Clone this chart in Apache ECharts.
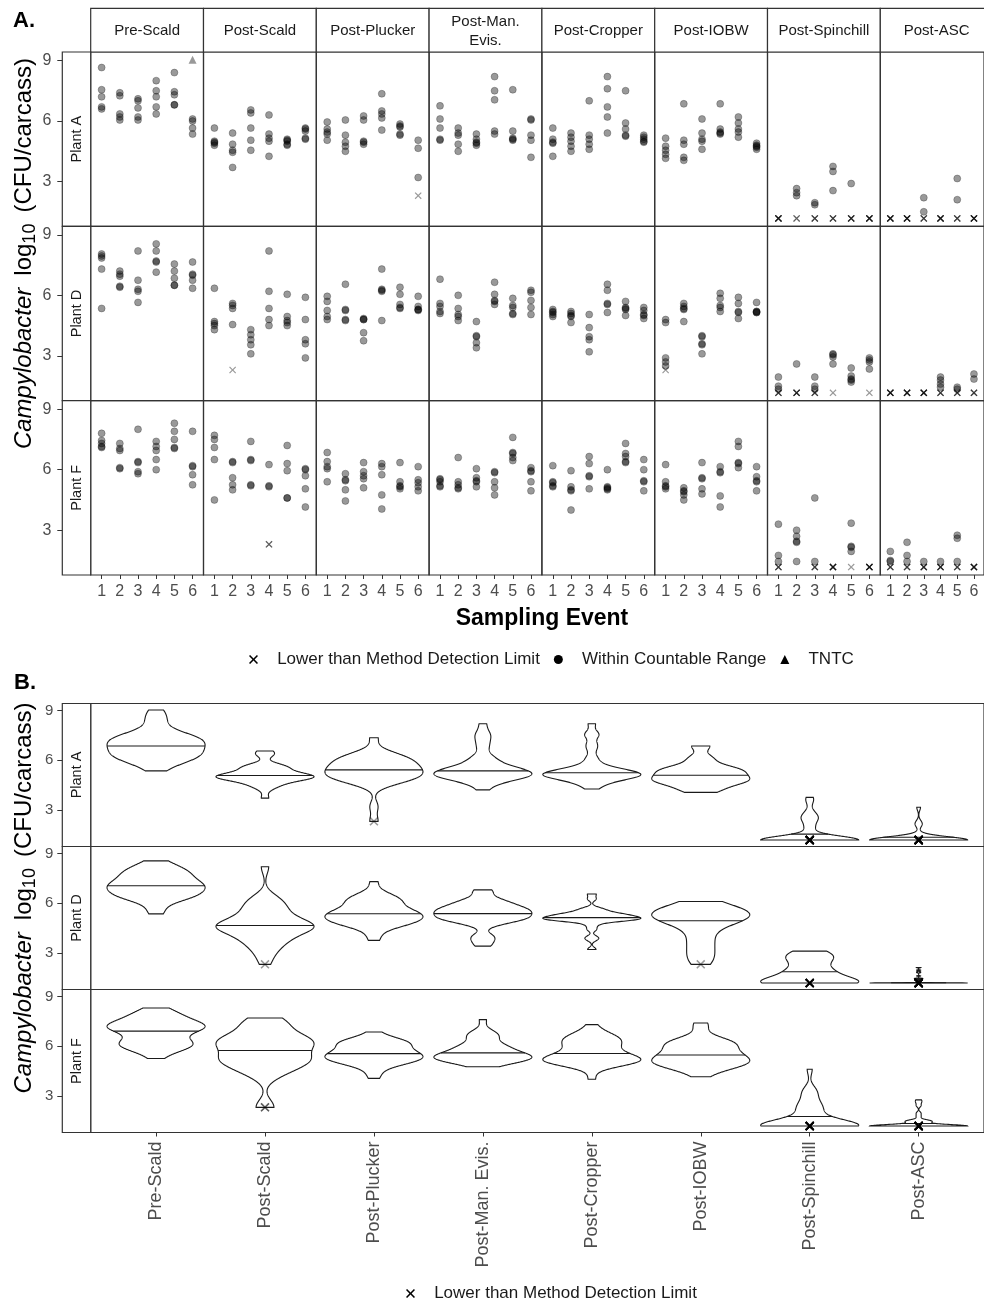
<!DOCTYPE html>
<html>
<head>
<meta charset="utf-8">
<title>Campylobacter counts by processing stage</title>
<script src="https://cdn.jsdelivr.net/npm/echarts@6/dist/echarts.min.js"></script>
<style>
  html, body { margin: 0; padding: 0; background: #fff; }
  #chart { width: 984px; height: 1301px; }
</style>
</head>
<body>
<div id="chart"></div>
<script>
// '<' = lower than method detection limit, '>' = TNTC
const LOD = '<1.17'
const LOD2 = '<2.3'
const TNTC = '>9.03'

const stages = ['Pre-Scald', 'Post-Scald', 'Post-Plucker', 'Post-Man. Evis.', 'Post-Cropper', 'Post-IOBW', 'Post-Spinchill', 'Post-ASC']
const stripLabels = ['Pre-Scald', 'Post-Scald', 'Post-Plucker', 'Post-Man.\nEvis.', 'Post-Cropper', 'Post-IOBW', 'Post-Spinchill', 'Post-ASC']
const plants = ['Plant A', 'Plant D', 'Plant F']
const events = [1, 2, 3, 4, 5, 6]
const yTicks = [3, 6, 9]

// log10 CFU/carcass, one list per sampling event
const aPreScald = [[8.65, 7.55, 7.2, 6.7, 6.6], [7.4, 7.25, 6.35, 6.2, 6.05], [7.1, 7.0, 6.65, 6.2, 6.05], [8.0, 7.5, 7.2, 6.7, 6.35], [8.4, 7.45, 7.3, 6.8, 6.8], [TNTC, 6.1, 6.0, 5.65, 5.35]]
const aPostScald = [[5.65, 5.0, 4.95, 4.9, 4.8], [5.4, 4.85, 4.55, 4.45, 3.7], [6.55, 6.4, 5.65, 5.05, 4.55], [6.3, 5.35, 5.15, 5.0, 4.25], [5.1, 5.05, 5.0, 4.85, 4.8], [5.65, 5.6, 5.5, 5.15, 5.1]]
const aPostPlucker = [[5.95, 5.6, 5.45, 5.35, 5.05], [6.05, 5.3, 4.95, 4.75, 4.5], [6.25, 6.05, 5.0, 4.95, 4.85], [7.35, 6.5, 6.35, 6.15, 5.55], [5.85, 5.75, 5.7, 5.35, 5.3], [5.05, 4.65, 3.2, LOD2]]
const aPostManEvis = [[6.75, 6.1, 5.65, 5.1, 5.05], [5.65, 5.4, 5.3, 4.85, 4.5], [5.35, 5.1, 4.95, 4.9, 4.8], [8.2, 7.5, 7.05, 5.5, 5.35], [7.55, 5.5, 5.15, 5.1, 5.05], [6.1, 6.05, 5.3, 5.05, 4.2]]
const aPostCropper = [[5.65, 5.1, 4.95, 4.9, 4.25], [5.4, 5.2, 5.0, 4.75, 4.5], [7.0, 5.3, 5.1, 4.85, 4.6], [8.2, 7.6, 6.7, 6.2, 5.4], [7.5, 5.9, 5.6, 5.3, 5.25], [5.3, 5.2, 5.1, 5.0, 4.95]]
const aPostIOBW = [[5.15, 4.75, 4.55, 4.35, 4.15], [6.85, 5.05, 4.85, 4.2, 4.05], [6.1, 5.4, 5.1, 5.0, 4.6], [6.85, 5.6, 5.45, 5.4, 5.35], [6.2, 5.9, 5.6, 5.45, 5.2], [4.9, 4.8, 4.75, 4.7, 4.6]]
const aPostSpinchill = [[LOD, LOD, LOD, LOD, LOD], [2.65, 2.45, 2.3, LOD, LOD], [1.95, 1.85, LOD, LOD, LOD], [3.75, 3.5, 2.55, LOD, LOD, LOD], [2.9, LOD, LOD, LOD, LOD], [LOD, LOD, LOD, LOD, LOD]]
const aPostASC = [[LOD, LOD, LOD, LOD, LOD], [LOD, LOD, LOD, LOD, LOD], [2.2, 1.5, LOD, LOD, LOD], [LOD, LOD, LOD, LOD, LOD], [3.15, 2.1, LOD, LOD, LOD], [LOD, LOD, LOD, LOD, LOD]]

const dPreScald = [[8.05, 7.95, 7.85, 7.3, 5.35], [7.2, 7.05, 6.95, 6.45, 6.4], [8.2, 6.75, 6.3, 6.2, 5.65], [8.55, 8.2, 7.7, 7.65, 7.15], [7.55, 7.2, 6.85, 6.5, 6.5], [7.65, 7.05, 7.0, 6.75, 6.35]]
const dPostScald = [[6.35, 4.7, 4.6, 4.5, 4.3], [5.6, 5.5, 5.35, 4.55, LOD2], [4.3, 4.05, 3.8, 3.55, 3.1], [8.2, 6.2, 5.35, 4.8, 4.5], [6.05, 4.95, 4.75, 4.65, 4.5], [5.9, 4.8, 3.8, 3.6, 2.9]]
const dPostPlucker = [[5.95, 5.7, 5.25, 4.95, 4.8], [6.55, 5.3, 5.25, 4.8, 4.75], [4.85, 4.8, 4.8, 4.15, 3.75], [7.3, 6.3, 6.25, 6.2, 4.75], [6.4, 6.05, 5.55, 5.4, 5.35], [5.95, 5.45, 5.3, 5.3, 5.25]]
const dPostManEvis = [[6.8, 5.6, 5.45, 5.2, 5.1], [6.0, 5.35, 5.05, 4.95, 4.75], [4.7, 4.0, 3.95, 3.65, 3.4], [6.65, 6.05, 5.75, 5.7, 5.55], [5.85, 5.5, 5.4, 5.1, 5.05], [6.25, 6.15, 5.75, 5.4, 5.05]]
const dPostCropper = [[5.3, 5.2, 5.15, 5.05, 4.95], [5.2, 5.1, 5.0, 4.95, 4.65], [5.05, 4.4, 3.95, 3.8, 3.2], [6.55, 6.25, 5.6, 5.55, 5.15], [5.7, 5.4, 5.35, 5.3, 5.0], [5.4, 5.25, 5.05, 5.0, 4.85]]
const dPostIOBW = [[4.8, 4.65, 2.9, 2.7, 2.5, LOD2], [5.6, 5.45, 5.35, 5.3, 4.7], [4.0, 3.95, 3.6, 3.55, 3.1], [6.1, 5.85, 5.5, 5.4, 5.2], [5.9, 5.6, 5.2, 5.15, 4.85], [5.65, 5.2, 5.2, 5.15, 5.15]]
const dPostSpinchill = [[1.95, 1.5, 1.35, LOD, LOD, LOD], [2.6, LOD, LOD, LOD, LOD], [1.95, 1.5, 1.35, LOD, LOD, LOD], [3.1, 3.05, 2.95, 2.6, LOD], [2.4, 2.0, 1.85, 1.8, 1.7], [2.9, 2.8, 2.7, 2.35, LOD]]
const dPostASC = [[LOD, LOD, LOD, LOD, LOD], [LOD, LOD, LOD, LOD, LOD], [LOD, LOD, LOD, LOD, LOD], [1.95, 1.8, 1.6, 1.45, LOD, LOD, LOD], [1.45, 1.35, LOD, LOD, LOD], [2.1, 1.85, LOD, LOD, LOD]]

const fPreScald = [[7.8, 7.45, 7.3, 7.15, 7.1], [7.3, 7.05, 6.95, 6.1, 6.05], [8.0, 6.4, 6.35, 5.9, 5.8], [7.4, 7.15, 6.95, 6.5, 6.0], [8.3, 7.9, 7.5, 7.1, 7.05], [7.9, 6.2, 6.15, 5.75, 5.25]]
const fPostScald = [[7.7, 7.5, 7.1, 6.5, 4.5], [6.4, 6.35, 5.6, 5.25, 5.0], [7.4, 6.5, 6.45, 5.25, 5.2], [6.25, 5.2, 5.15, LOD2, LOD2], [7.2, 6.3, 5.95, 4.6, 4.6], [6.05, 6.0, 5.7, 5.05, 4.15]]
const fPostPlucker = [[6.85, 6.4, 6.15, 6.05, 5.4], [5.8, 5.5, 5.45, 5.0, 4.45], [6.35, 5.9, 5.7, 5.55, 5.1], [6.3, 6.15, 5.75, 4.75, 4.05], [6.35, 5.4, 5.2, 5.15, 5.05], [6.15, 5.5, 5.35, 5.15, 4.95]]
const fPostManEvis = [[5.55, 5.5, 5.4, 5.2, 5.15], [6.6, 5.4, 5.25, 5.1, 5.05], [6.05, 5.6, 5.45, 5.4, 5.15], [5.9, 5.85, 5.4, 5.1, 4.75], [7.6, 6.85, 6.8, 6.6, 6.45], [6.1, 5.95, 5.9, 5.4, 4.95]]
const fPostCropper = [[6.2, 5.4, 5.35, 5.2, 5.15], [5.95, 5.15, 5.0, 4.95, 4.0], [6.65, 6.3, 5.7, 5.65, 5.05], [6.0, 5.15, 5.1, 5.05, 5.0], [7.3, 6.8, 6.65, 6.4, 6.35], [6.5, 6.0, 5.45, 5.4, 4.95]]
const fPostIOBW = [[6.25, 5.4, 5.2, 5.15, 5.05], [5.1, 4.95, 4.9, 4.75, 4.5], [6.35, 5.6, 5.55, 5.05, 4.8], [6.15, 5.9, 5.85, 4.7, 4.15], [7.4, 7.15, 6.35, 6.3, 6.1], [6.15, 5.65, 5.45, 5.4, 4.95]]
const fPostSpinchill = [[3.3, 1.75, 1.45, LOD, LOD, LOD], [3.0, 2.7, 2.45, 2.4, 1.45], [4.6, 1.45, LOD, LOD, LOD], [LOD, LOD, LOD, LOD, LOD], [3.35, 2.2, 2.15, 1.95, LOD], [LOD, LOD, LOD, LOD, LOD]]
const fPostASC = [[1.95, 1.5, 1.45, LOD, LOD, LOD], [2.4, 1.75, 1.45, LOD, LOD, LOD], [1.45, LOD, LOD, LOD, LOD], [1.45, LOD, LOD, LOD, LOD], [2.75, 2.6, 1.45, LOD, LOD, LOD], [LOD, LOD, LOD, LOD, LOD]]

const plantA = [aPreScald, aPostScald, aPostPlucker, aPostManEvis, aPostCropper, aPostIOBW, aPostSpinchill, aPostASC]
const plantD = [dPreScald, dPostScald, dPostPlucker, dPostManEvis, dPostCropper, dPostIOBW, dPostSpinchill, dPostASC]
const plantF = [fPreScald, fPostScald, fPostPlucker, fPostManEvis, fPostCropper, fPostIOBW, fPostSpinchill, fPostASC]
const plantData = [plantA, plantD, plantF]

const FONT = '"Liberation Sans", Arial, sans-serif'
const XPATH = 'path://M0,1.2L1.2,0L5,3.8L8.8,0L10,1.2L6.2,5L10,8.8L8.8,10L5,6.2L1.2,10L0,8.8L3.8,5Z'
const LOD_NAME = 'Lower than Method Detection Limit'
const LINE = '#333'
const Y_MIN = 0.78
const Y_MAX = 9.42
const STRIP_X = 62.3
const PA = { left: 90.7, top: 52, colW: 112.8, rowH: 174.33 }
const PB = { left: 90.7, top: 703.5, width: 902, rowH: 143 }
const HALF = 0.45

const num = v => (typeof v === 'string' ? parseFloat(v.slice(1)) : v)
const kind = v => (typeof v === 'number' ? 'count' : (v[0] === '<' ? 'lod' : 'tntc'))

// gaussian kde like R density(bw = 'nrd0'), trimmed to data range, scaled to max width
function violinProfile(values) {
	const s = values.slice().sort((a, b) => a - b)
	const n = s.length
	const mean = s.reduce((a, b) => a + b, 0) / n
	const sd = Math.sqrt(s.reduce((a, b) => a + (b - mean) * (b - mean), 0) / (n - 1))
	const q = (p) => {
		const h = (n - 1) * p
		const i = Math.floor(h)
		return s[i] + (h - i) * (s[Math.min(i + 1, n - 1)] - s[i])
	}
	let lo = Math.min(sd, (q(0.75) - q(0.25)) / 1.34)
	if (!(lo > 0)) lo = sd || Math.abs(s[0]) || 1
	const bw = 0.9 * lo * Math.pow(n, -0.2)

	const N = 256
	const ys = []
	const ds = []
	for (let k = 0; k < N; k++) {
		const y = s[0] + (s[n - 1] - s[0]) * k / (N - 1)
		let d = 0
		s.forEach((v) => { const z = (y - v) / bw; d += Math.exp(-0.5 * z * z) })
		ys.push(y)
		ds.push(d)
	}
	const maxD = Math.max(...ds)
	const ws = ds.map(d => d / maxD)

	const total = ds.reduce((a, b) => a + b, 0)
	let cum = 0
	let ym = ys[0]
	let wm = ws[0]
	for (let k = 0; k < N; k++) {
		const prev = cum
		cum += ds[k] / total
		if (cum >= 0.5) {
			const t = k === 0 ? 0 : (0.5 - prev) / (cum - prev)
			const k0 = Math.max(k - 1, 0)
			ym = ys[k0] + t * (ys[k] - ys[k0])
			wm = ws[k0] + t * (ws[k] - ws[k0])
			break
		}
	}
	return { ys, ws, ym, wm }
}

const profiles = plantData.map(plant => plant.map(ev => violinProfile(ev.flat().map(num))))

const grid = []
const xAxis = []
const yAxis = []
const series = []

const pointStyle = { color: 'rgba(0,0,0,0.5)', borderColor: 'rgba(0,0,0,0.45)', borderWidth: 0.7 }
const markStyle = { color: 'rgba(0,0,0,0.5)' }

function yAxisFor(g, showIt, fontSize, margin) {
	return {
		gridIndex: g, type: 'value', min: Y_MIN, max: Y_MAX, show: showIt, offset: 28.4,
		axisLine: { show: false }, splitLine: { show: false },
		axisTick: { customValues: yTicks, length: 5, lineStyle: { color: LINE } },
		axisLabel: { customValues: yTicks, fontSize, color: '#4d4d4d', margin, fontFamily: FONT }
	}
}

// Panel A: 3 plants x 8 stages
plants.forEach((plant, r) => {
	stages.forEach((stage, c) => {
		const g = grid.length
		grid.push({ left: PA.left + c * PA.colW, top: PA.top + r * PA.rowH, width: PA.colW, height: PA.rowH, show: true, borderColor: LINE, borderWidth: 1.2 })
		xAxis.push({
			gridIndex: g, type: 'value', min: 0.4, max: 6.6,
			axisLine: { show: false }, splitLine: { show: false },
			axisTick: { show: r === 2, customValues: events, length: 4, lineStyle: { color: LINE } },
			axisLabel: { show: r === 2, customValues: events, fontSize: 16, color: '#4d4d4d', margin: 9, fontFamily: FONT }
		})
		yAxis.push(yAxisFor(g, c === 0, 16, 11))

		const counts = []
		const lods = []
		const over = []
		plantData[r][c].forEach((vals, e) => {
			vals.forEach((v) => {
				const p = [events[e], num(v)]
				const k = kind(v)
				if (k === 'count') counts.push(p)
				else if (k === 'lod') lods.push(p)
				else over.push(p)
			})
		})
		const base = { type: 'scatter', xAxisIndex: g, yAxisIndex: g, silent: true }
		if (lods.length) series.push({ ...base, name: LOD_NAME, data: lods, symbol: XPATH, symbolSize: 7, itemStyle: markStyle })
		if (counts.length) series.push({ ...base, name: 'Within Countable Range', data: counts, symbol: 'circle', symbolSize: 7, itemStyle: pointStyle })
		if (over.length) series.push({ ...base, name: 'TNTC', data: over, symbol: 'triangle', symbolSize: 8, itemStyle: markStyle })
	})
})

function violinRenderer(row) {
	return function (params, api) {
		const si = api.value(0)
		const p = profiles[row][si - 1]
		const right = []
		const left = []
		for (let k = 0; k < p.ys.length; k++) {
			right.push(api.coord([si + p.ws[k] * HALF, p.ys[k]]))
			left.push(api.coord([si - p.ws[k] * HALF, p.ys[k]]))
		}
		const a = api.coord([si - p.wm * HALF, p.ym])
		const b = api.coord([si + p.wm * HALF, p.ym])
		return {
			type: 'group',
			children: [
				{ type: 'polygon', shape: { points: right.concat(left.reverse()) }, style: { fill: '#fff', stroke: '#1a1a1a', lineWidth: 1.1 } },
				{ type: 'line', shape: { x1: a[0], y1: a[1], x2: b[0], y2: b[1] }, style: { stroke: '#1a1a1a', lineWidth: 1.1 } }
			]
		}
	}
}

// Panel B: violins per plant
plants.forEach((plant, r) => {
	const g = grid.length
	grid.push({ left: PB.left, top: PB.top + r * PB.rowH, width: PB.width, height: PB.rowH, show: true, borderColor: LINE, borderWidth: 1.2 })
	const idx = stages.map((s, i) => i + 1)
	xAxis.push({
		gridIndex: g, type: 'value', min: 0.4, max: 8.6,
		axisLine: { show: false }, splitLine: { show: false },
		axisTick: { show: r === 2, customValues: idx, length: 4, lineStyle: { color: LINE } },
		axisLabel: { show: r === 2, customValues: idx, rotate: 90, fontSize: 18, color: '#4d4d4d', margin: 9, fontFamily: FONT, formatter: v => stages[v - 1] }
	})
	yAxis.push(yAxisFor(g, true, 15, 9))

	series.push({
		type: 'custom', name: 'violin', xAxisIndex: g, yAxisIndex: g, silent: true,
		data: idx.map(i => [i, 5]), renderItem: violinRenderer(r)
	})
	const lods = []
	plantData[r].forEach((ev, si) => ev.flat().forEach((v) => { if (kind(v) === 'lod') lods.push([si + 1, num(v)]) }))
	series.push({ type: 'scatter', name: LOD_NAME, xAxisIndex: g, yAxisIndex: g, silent: true, z: 5, data: lods, symbol: XPATH, symbolSize: 9, itemStyle: markStyle })
})

function yTitle(cx, cy) {
	const ctx = document.createElement('canvas').getContext('2d')
	const parts = [
		{ text: 'Campylobacter', font: 'italic 24px ' + FONT, dy: 0, gap: 12 },
		{ text: 'log', font: '24px ' + FONT, dy: 0, gap: 0 },
		{ text: '10', font: '18px ' + FONT, dy: 6, gap: 11 },
		{ text: '(CFU/carcass)', font: '24px ' + FONT, dy: 0, gap: 0 }
	]
	let total = 0
	parts.forEach((p) => { ctx.font = p.font; p.w = ctx.measureText(p.text).width; total += p.w + p.gap })
	let x = -total / 2
	const children = parts.map((p) => {
		const el = { type: 'text', x, y: p.dy, style: { text: p.text, font: p.font, fill: '#000', align: 'left', verticalAlign: 'middle' } }
		x += p.w + p.gap
		return el
	})
	return { type: 'group', x: cx, y: cy, rotation: Math.PI / 2, children }
}

const stripStyle = { fill: '#fff', stroke: LINE, lineWidth: 1.2 }
const graphic = []
stripLabels.forEach((label, c) => {
	const x = PA.left + c * PA.colW
	graphic.push({ type: 'rect', shape: { x, y: 8.3, width: PA.colW, height: PA.top - 8.3 }, style: stripStyle })
	graphic.push({ type: 'text', x: x + PA.colW / 2, y: 31, style: { text: label, font: '15px ' + FONT, fill: '#1a1a1a', align: 'center', verticalAlign: 'middle', lineHeight: 19 } })
})
plants.forEach((plant, r) => {
	const ya = PA.top + r * PA.rowH
	graphic.push({ type: 'rect', shape: { x: STRIP_X, y: ya, width: PA.left - STRIP_X, height: PA.rowH }, style: stripStyle })
	graphic.push({ type: 'text', x: 76.5, y: ya + PA.rowH / 2, rotation: Math.PI / 2, style: { text: plant, font: '14.5px ' + FONT, fill: '#1a1a1a', align: 'center', verticalAlign: 'middle' } })
	const yb = PB.top + r * PB.rowH
	graphic.push({ type: 'rect', shape: { x: STRIP_X, y: yb, width: PB.left - STRIP_X, height: PB.rowH }, style: stripStyle })
	graphic.push({ type: 'text', x: 76.5, y: yb + PB.rowH / 2, rotation: Math.PI / 2, style: { text: plant, font: '14.5px ' + FONT, fill: '#1a1a1a', align: 'center', verticalAlign: 'middle' } })
})
graphic.push({ type: 'text', x: 13, y: 20.5, style: { text: 'A.', font: 'bold 22px ' + FONT, fill: '#000', verticalAlign: 'middle' } })
graphic.push({ type: 'text', x: 14, y: 682.5, style: { text: 'B.', font: 'bold 22px ' + FONT, fill: '#000', verticalAlign: 'middle' } })
graphic.push({ type: 'text', x: 542, y: 619, style: { text: 'Sampling Event', font: 'bold 23px ' + FONT, fill: '#000', align: 'center', verticalAlign: 'middle' } })
graphic.push(yTitle(24.5, 253.5))
graphic.push(yTitle(24.5, 898))

const legendBase = {
	orient: 'horizontal', itemWidth: 9, itemHeight: 9, itemGap: 14, selectedMode: false,
	formatter: name => '   ' + name,
	textStyle: { fontSize: 17, color: '#1a1a1a', fontFamily: FONT },
	itemStyle: { color: '#000', borderWidth: 0, opacity: 1 }
}

const chart = echarts.init(document.getElementById('chart'), null, { renderer: 'canvas' })
chart.setOption({
	backgroundColor: '#fff',
	animation: false,
	textStyle: { fontFamily: FONT },
	grid,
	xAxis,
	yAxis,
	legend: [
		{ ...legendBase, left: 244, top: 646, data: [{ name: LOD_NAME, icon: XPATH }, { name: 'Within Countable Range', icon: 'circle' }, { name: 'TNTC', icon: 'triangle' }] },
		{ ...legendBase, left: 401, top: 1280, data: [{ name: LOD_NAME, icon: XPATH }] }
	],
	graphic,
	series
})
</script>
</body>
</html>
